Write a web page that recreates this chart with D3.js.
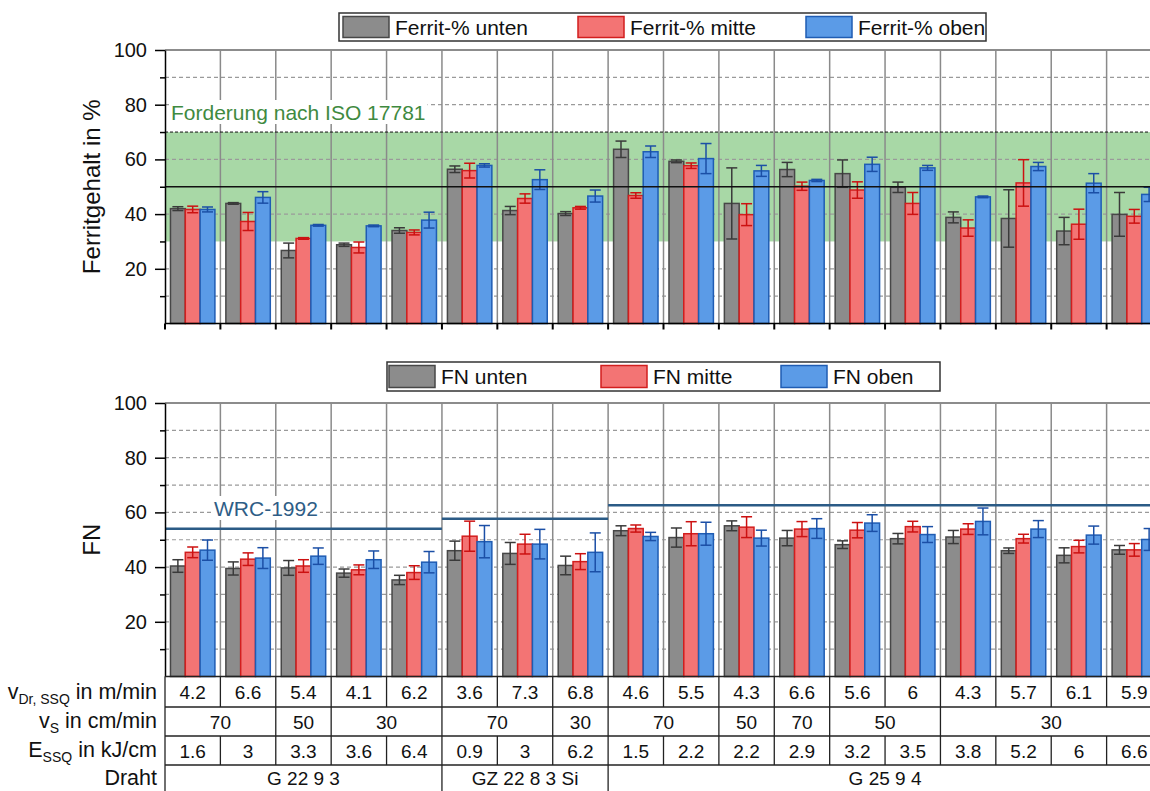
<!DOCTYPE html>
<html>
<head>
<meta charset="utf-8">
<script src="https://cdn.jsdelivr.net/npm/d3@7"></script>
<style>
body { margin: 0; background: #fff; }
svg { display: block; font-family: "Liberation Sans", Arial, sans-serif; }
</style>
</head>
<body>
<script>
// Versuche (18 Schweissungen)
var categories = ["V1","V2","V3","V4","V5","V6","V7","V8","V9","V10","V11","V12","V13","V14","V15","V16","V17","V18"];
var seriesKeys = ["unten", "mitte", "oben"];

// Ferritgehalt in % (oben)
var ferritUnten    = [42.0, 43.9, 26.7, 28.8, 34.0, 56.4, 41.3, 40.2, 63.7, 59.3, 43.9, 56.3, 54.8, 49.8, 38.8, 38.4, 33.8, 39.9];
var ferritUntenErr = [0.7, 0.3, 2.7, 0.6, 1.0, 1.2, 1.5, 0.7, 3.0, 0.5, 13.0, 2.6, 5.0, 1.9, 2.0, 10.5, 5.0, 8.0];
var ferritMitte    = [41.7, 37.3, 31.1, 27.8, 33.3, 55.9, 45.7, 42.3, 46.8, 57.7, 39.8, 50.2, 48.8, 43.9, 34.9, 51.4, 36.3, 39.2];
var ferritMitteErr = [1.2, 3.3, 0.3, 2.0, 0.9, 2.7, 1.7, 0.5, 1.0, 1.0, 4.0, 1.5, 3.0, 4.0, 3.0, 8.5, 5.5, 2.5];
var ferritOben     = [41.7, 46.1, 35.9, 35.7, 37.8, 57.8, 52.6, 46.6, 62.8, 60.3, 55.8, 52.3, 58.2, 56.9, 46.3, 57.4, 51.3, 47.2];
var ferritObenErr  = [0.9, 2.1, 0.3, 0.3, 2.9, 0.6, 3.6, 2.2, 2.1, 5.5, 2.0, 0.4, 2.6, 0.9, 0.3, 1.5, 3.5, 2.6];

// FN (unten)
var fnUnten    = [40.4, 39.5, 39.7, 37.8, 35.3, 46.0, 45.0, 40.6, 53.3, 50.8, 55.1, 50.6, 48.2, 50.4, 51.0, 46.0, 44.3, 46.3];
var fnUntenErr = [2.3, 2.4, 2.7, 1.5, 1.7, 3.5, 4.0, 3.4, 1.8, 3.5, 1.8, 2.8, 1.4, 1.9, 2.4, 1.0, 2.75, 1.6];
var fnMitte    = [45.4, 42.9, 40.4, 39.0, 38.0, 51.3, 48.4, 42.0, 54.1, 52.2, 54.6, 53.9, 53.5, 54.8, 53.9, 50.4, 47.5, 46.3];
var fnMitteErr = [1.95, 2.3, 2.3, 1.8, 2.5, 5.5, 3.6, 2.9, 1.3, 4.4, 3.8, 2.75, 2.8, 1.95, 1.95, 1.6, 2.3, 2.3];
var fnOben     = [46.2, 43.3, 44.0, 42.7, 41.8, 49.3, 48.4, 45.4, 51.2, 52.2, 50.6, 54.1, 56.1, 51.9, 56.7, 53.9, 51.7, 50.1];
var fnObenErr  = [3.7, 3.8, 3.0, 3.2, 3.9, 5.9, 5.4, 7.1, 1.5, 4.2, 2.9, 3.6, 3.05, 2.9, 4.9, 3.1, 3.3, 4.0];

// Forderung ISO 17781 und WRC-1992
var isoMin = 30, isoMax = 70, isoMid = 50;
var wrcValues = [54.0, 57.7, 62.6];

// Tabelle
var vDr  = ["4.2","6.6","5.4","4.1","6.2","3.6","7.3","6.8","4.6","5.5","4.3","6.6","5.6","6","4.3","5.7","6.1","5.9"];
var vS      = ["70","50","30","70","30","70","50","70","50","30"];
var vSSpans = [2, 1, 2, 2, 1, 2, 1, 1, 2, 4];
var eSSQ = ["1.6","3","3.3","3.6","6.4","0.9","3","6.2","1.5","2.2","2.2","2.9","3.2","3.5","3.8","5.2","6","6.6"];
var draht      = ["G 22 9 3", "GZ 22 8 3 Si", "G 25 9 4"];
var drahtSpans = [5, 3, 10];

var majorTicks = [20, 40, 60, 80, 100];
var minorTicks = [10, 30, 50, 70, 90];
var gridTicks  = [10, 20, 30, 40, 50, 60, 70, 80, 90];

var fills   = ["#8c8c8c", "#f37474", "#5b9be7"];
var strokes = ["#474747", "#d21e1e", "#1f5cb3"];
var errCols = ["#3a3a3a", "#cc1111", "#1b4fa6"];

var width = 1150, height = 791;
var plotLeft = 165, plotRight = 1162;

var svg = d3.select("body").append("svg")
	.attr("width", width)
	.attr("height", height);

var x0 = d3.scaleBand().domain(categories).range([plotLeft, plotRight]).padding(0);
var x1 = d3.scaleBand().domain(seriesKeys).range([0, x0.bandwidth()])
	.paddingInner(0).paddingOuter(0.37);

var yTop = d3.scaleLinear().domain([0, 100]).range([323.5, 50]);
var yBot = d3.scaleLinear().domain([0, 100]).range([676.5, 403]);

// boundary x of group i (i = 0..18)
function bx(i) {
	return i < categories.length ? x0(categories[i]) : x0(categories[categories.length - 1]) + x0.bandwidth();
}

function drawPanel(y, gridVals) {
	var g = svg.append("g");

	// dashed grid
	g.selectAll(".grid").data(gridVals).enter().append("line")
		.attr("x1", plotLeft).attr("x2", plotRight)
		.attr("y1", function (d) { return y(d); })
		.attr("y2", function (d) { return y(d); })
		.attr("stroke", "#9a9a9a").attr("stroke-width", 1.2)
		.attr("stroke-dasharray", "4,3");

	g.append("line")
		.attr("x1", plotLeft).attr("x2", plotRight)
		.attr("y1", y(100)).attr("y2", y(100))
		.attr("stroke", "#666").attr("stroke-width", 1.5);

	// vertical separators
	g.selectAll(".vsep").data(d3.range(1, categories.length)).enter().append("line")
		.attr("x1", function (d) { return bx(d); })
		.attr("x2", function (d) { return bx(d); })
		.attr("y1", y(100)).attr("y2", y(0))
		.attr("stroke", "#8a8a8a").attr("stroke-width", 1.5);
	return g;
}

function drawBars(g, y, vals, errs) {
	for (var s = 0; s < 3; s++) {
		var key = seriesKeys[s];
		var grp = g.append("g");
		grp.selectAll("rect").data(vals[s]).enter().append("rect")
			.attr("x", function (d, i) { return x0(categories[i]) + x1(key); })
			.attr("y", function (d) { return y(d); })
			.attr("width", x1.bandwidth())
			.attr("height", function (d) { return y(0) - y(d); })
			.attr("fill", fills[s])
			.attr("stroke", strokes[s])
			.attr("stroke-width", 1.5);
	}
	for (var s = 0; s < 3; s++) {
		var key = seriesKeys[s];
		var eg = g.append("g").attr("stroke", errCols[s]).attr("stroke-width", 1.5);
		vals[s].forEach(function (v, i) {
			var cx = x0(categories[i]) + x1(key) + x1.bandwidth() / 2;
			var e = errs[s][i];
			eg.append("line").attr("x1", cx).attr("x2", cx).attr("y1", y(v + e)).attr("y2", y(v - e));
			eg.append("line").attr("x1", cx - 5.5).attr("x2", cx + 5.5).attr("y1", y(v + e)).attr("y2", y(v + e));
			eg.append("line").attr("x1", cx - 5.5).attr("x2", cx + 5.5).attr("y1", y(v - e)).attr("y2", y(v - e));
		});
	}
}

function drawAxis(y) {
	var major = svg.append("g").attr("transform", "translate(" + plotLeft + ",0)")
		.call(d3.axisLeft(y).tickValues(majorTicks).tickSize(10).tickSizeOuter(0).tickPadding(8));
	major.select(".domain").attr("stroke", "#000").attr("stroke-width", 1.5);
	major.selectAll(".tick line").attr("stroke", "#000").attr("stroke-width", 1.5);
	major.selectAll(".tick text").attr("font-size", 20).attr("fill", "#111")
		.style("font-family", "'Liberation Sans', Arial, sans-serif");
	var minor = svg.append("g").attr("transform", "translate(" + plotLeft + ",0)")
		.call(d3.axisLeft(y).tickValues(minorTicks).tickSize(5).tickSizeOuter(0).tickFormat(""));
	minor.select(".domain").remove();
	minor.selectAll(".tick line").attr("stroke", "#000").attr("stroke-width", 1.5);
}

function labelWithBg(g, x, yb, txt, size, color) {
	var t = g.append("text").attr("x", x).attr("y", yb)
		.attr("font-size", size).attr("fill", color).text(txt);
	var bb = t.node().getBBox();
	g.insert("rect", "text").attr("x", bb.x - 2).attr("y", bb.y - 1)
		.attr("width", bb.width + 4).attr("height", bb.height + 1).attr("fill", "#fff");
}

function drawLegend(bx0, by0, bw, bh, xs, labels) {
	var lg = svg.append("g");
	lg.append("rect").attr("x", bx0).attr("y", by0).attr("width", bw).attr("height", bh)
		.attr("fill", "#fff").attr("stroke", "#333").attr("stroke-width", 1.5);
	labels.forEach(function (l, i) {
		lg.append("rect").attr("x", xs[i]).attr("y", by0 + 3.5).attr("width", 46).attr("height", bh - 7)
			.attr("fill", fills[i]).attr("stroke", strokes[i]).attr("stroke-width", 1.5);
		lg.append("text").attr("x", xs[i] + 52).attr("y", by0 + bh / 2 + 7.5)
			.attr("font-size", 21).attr("fill", "#111").text(l);
	});
}

// ---------- oberes Diagramm ----------
var gTop = svg.append("g");
gTop.append("rect")
	.attr("x", plotLeft).attr("width", plotRight - plotLeft)
	.attr("y", yTop(isoMax)).attr("height", yTop(isoMin) - yTop(isoMax))
	.attr("fill", "#a8d8a6");
var pTop = drawPanel(yTop, [10, 20, 40, 60, 80, 90]);
labelWithBg(pTop, 171, 120, "Forderung nach ISO 17781", 21, "#3f8a3f");
drawBars(pTop, yTop, [ferritUnten, ferritMitte, ferritOben], [ferritUntenErr, ferritMitteErr, ferritObenErr]);
pTop.append("line").attr("x1", plotLeft).attr("x2", plotRight)
	.attr("y1", yTop(isoMax)).attr("y2", yTop(isoMax))
	.attr("stroke", "#111").attr("stroke-width", 1).attr("stroke-dasharray", "3,2");
pTop.append("line").attr("x1", plotLeft).attr("x2", plotRight)
	.attr("y1", yTop(isoMid)).attr("y2", yTop(isoMid))
	.attr("stroke", "#111").attr("stroke-width", 1.3);
drawAxis(yTop);
// x-Achse oben
svg.append("line").attr("x1", plotLeft).attr("x2", plotRight)
	.attr("y1", yTop(0)).attr("y2", yTop(0)).attr("stroke", "#000").attr("stroke-width", 1.5);
svg.selectAll(".xt").data(d3.range(0, categories.length + 1)).enter().append("line")
	.attr("x1", function (d) { return bx(d); }).attr("x2", function (d) { return bx(d); })
	.attr("y1", yTop(0)).attr("y2", yTop(0) + 6)
	.attr("stroke", "#000").attr("stroke-width", 2);
svg.append("text").attr("transform", "translate(100," + ((yTop(0) + yTop(100)) / 2) + ") rotate(-90)")
	.attr("text-anchor", "middle").attr("font-size", 24).attr("fill", "#111").text("Ferritgehalt in %");
drawLegend(339, 13, 647, 28, [343, 578, 806], ["Ferrit-% unten", "Ferrit-% mitte", "Ferrit-% oben"]);

// ---------- unteres Diagramm ----------
var pBot = drawPanel(yBot, gridTicks);
labelWithBg(pBot, 214, 516, "WRC-1992", 21, "#2e5d86");
drawBars(pBot, yBot, [fnUnten, fnMitte, fnOben], [fnUntenErr, fnMitteErr, fnObenErr]);
var wrcStart = 0;
wrcValues.forEach(function (v, i) {
	pBot.append("line")
		.attr("x1", bx(wrcStart)).attr("x2", bx(wrcStart + drahtSpans[i]))
		.attr("y1", yBot(v)).attr("y2", yBot(v))
		.attr("stroke", "#2b5b86").attr("stroke-width", 2.5);
	wrcStart += drahtSpans[i];
});
drawAxis(yBot);
svg.append("text").attr("transform", "translate(100," + ((yBot(0) + yBot(100)) / 2) + ") rotate(-90)")
	.attr("text-anchor", "middle").attr("font-size", 24).attr("fill", "#111").text("FN");
drawLegend(387, 362, 553, 29, [389, 601, 781], ["FN unten", "FN mitte", "FN oben"]);

// ---------- Tabelle ----------
var rowY = [676.5, 707, 736, 765, 791];
var tab = svg.append("g").attr("stroke", "#222").attr("stroke-width", 1.3);
[0, 1, 2, 3].forEach(function (r) {
	tab.append("line").attr("x1", plotLeft).attr("x2", plotRight).attr("y1", rowY[r]).attr("y2", rowY[r]);
});
tab.append("line").attr("x1", plotLeft).attr("x2", plotLeft).attr("y1", rowY[0]).attr("y2", rowY[4]);

function spanBounds(spans) {
	var b = [0], acc = 0;
	spans.forEach(function (s) { acc += s; b.push(acc); });
	return b;
}
function drawRow(r, texts, spans) {
	var b = spanBounds(spans);
	b.slice(1, -1).forEach(function (k) {
		tab.append("line").attr("x1", bx(k)).attr("x2", bx(k)).attr("y1", rowY[r]).attr("y2", rowY[r + 1]);
	});
	texts.forEach(function (t, i) {
		svg.append("text").attr("x", (bx(b[i]) + bx(b[i + 1])) / 2)
			.attr("y", (rowY[r] + rowY[r + 1]) / 2 + 7)
			.attr("text-anchor", "middle").attr("font-size", 19).attr("fill", "#111").text(t);
	});
}
var ones = categories.map(function () { return 1; });
drawRow(0, vDr, ones);
drawRow(1, vS, vSSpans);
drawRow(2, eSSQ, ones);
drawRow(3, draht, drahtSpans);

var rowLabels = [
	["v", "Dr, SSQ", " in m/min"],
	["v", "S", " in cm/min"],
	["E", "SSQ", " in kJ/cm"],
	["Draht", "", ""]
];
var labelBase = [699, 728, 757, 785];
rowLabels.forEach(function (l, r) {
	var t = svg.append("text").attr("x", 157).attr("y", labelBase[r])
		.attr("text-anchor", "end").attr("font-size", 21.5).attr("fill", "#111");
	t.append("tspan").text(l[0]);
	if (l[1]) {
		t.append("tspan").attr("font-size", 14).attr("dy", 5).text(l[1]);
		t.append("tspan").attr("dy", -5).text(l[2]);
	}
});
</script>
</body>
</html>
